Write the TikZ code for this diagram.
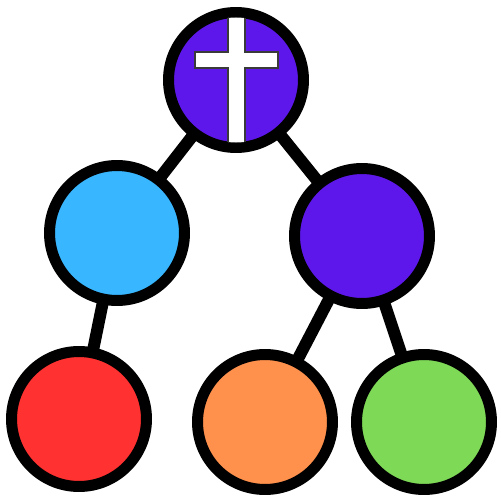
\documentclass[tikz,border=0pt]{standalone}
\usepackage{xcolor}
\usetikzlibrary{backgrounds}
\definecolor{ballpurple}{HTML}{5E17EB}
\definecolor{ballblue}{HTML}{38B6FF}
\definecolor{ballred}{HTML}{FF3131}
\definecolor{ballorange}{HTML}{FF914D}
\definecolor{ballgreen}{HTML}{7ED957}
\definecolor{crossedge}{HTML}{3A3A3A}
\tikzset{
  ball/.style={circle,draw=black,line width=0.22cm,
               minimum size=2.7cm,inner sep=0pt},
  linkline/.style={draw=black,line width=0.24cm},
  crossbar/.style={draw=crossedge,fill=white,line width=0.6pt}
}
\begin{document}
\begin{tikzpicture}[x=0.02cm,y=-0.02cm]
  \useasboundingbox (0,0) rectangle (500,500);
  % parents
  \node[ball,fill=ballpurple] (root) at (236,80) {};
  \node[ball,fill=ballblue] (leftkid) at (117,233) {};
  \node[ball,fill=ballpurple] (rightkid) at (362,236) {};
  % leaves
  \node[ball,fill=ballred] (leafred) at (79,419) {};
  \node[ball,fill=ballorange] (leaforange) at (265,422) {};
  \node[ball,fill=ballgreen] (leafgreen) at (424,422) {};
  % links behind the balls
  \begin{scope}[on background layer]
    \draw[linkline] (root.center) -- (leftkid.center);
    \draw[linkline] (root.center) -- (rightkid.center);
    \draw[linkline] (leftkid.center) -- (leafred.center);
    \draw[linkline] (rightkid.center) -- (leaforange.center);
    \draw[linkline] (rightkid.center) -- (leafgreen.center);
  \end{scope}
  % cross on the root
  \begin{scope}
    \clip (root.center) circle (62.5);
    \draw[crossbar] (228,0) -- (245,0) -- (245,52) -- (278,52) -- (278,68)
      -- (245,68) -- (245,160) -- (228,160) -- (228,68) -- (195,68)
      -- (195,52) -- (228,52) -- cycle;
  \end{scope}
\end{tikzpicture}
\end{document}
